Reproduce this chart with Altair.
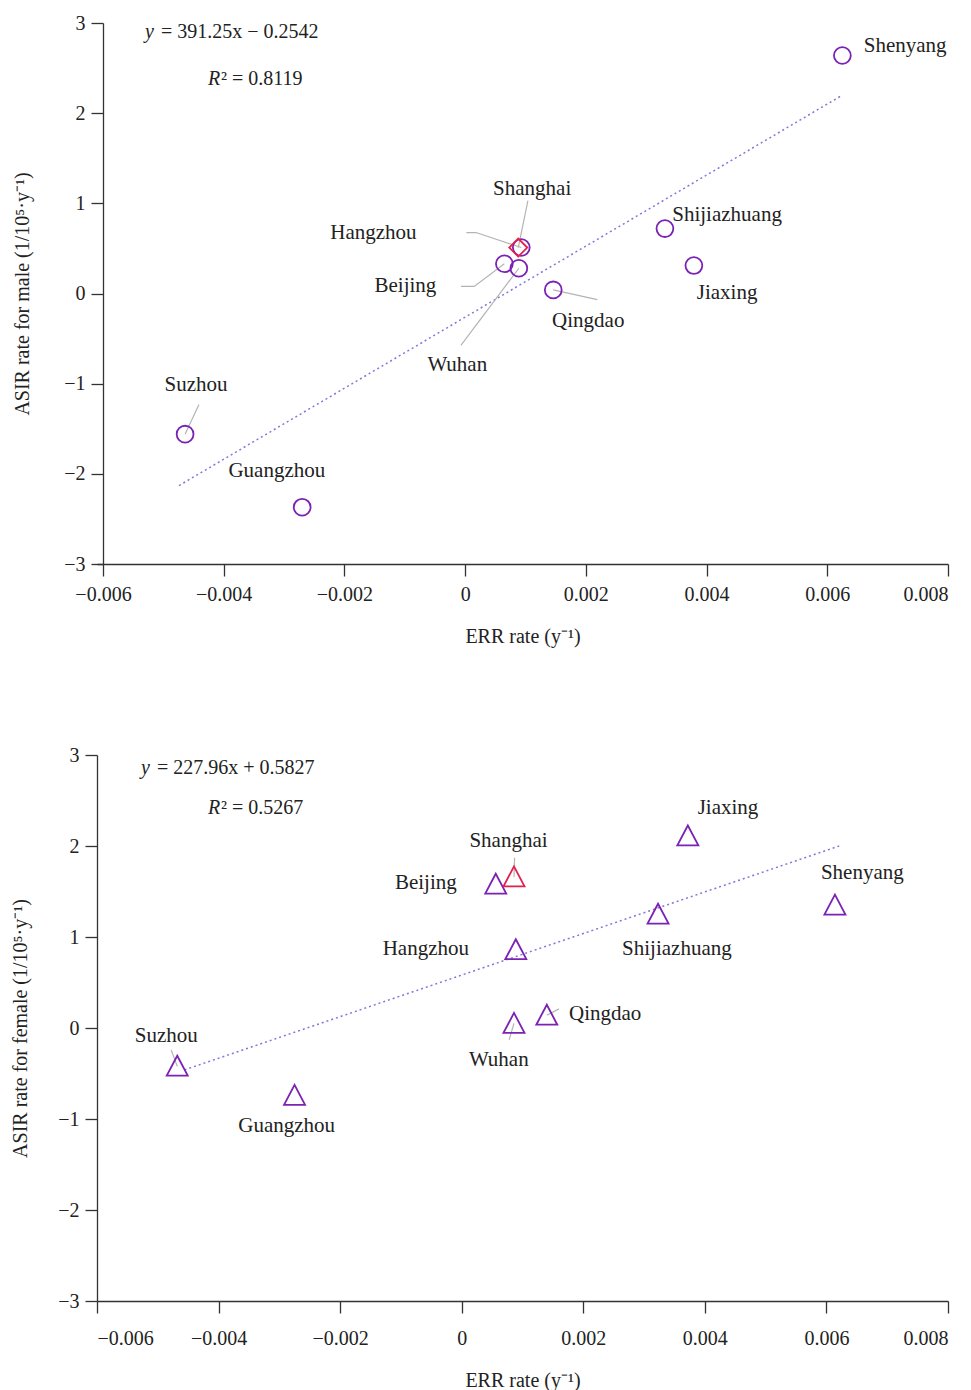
import altair as alt
import pandas as pd

cities = ["Shenyang", "Shijiazhuang", "Jiaxing", "Qingdao", "Shanghai",
          "Hangzhou", "Beijing", "Wuhan", "Suzhou", "Guangzhou"]

# male panel
male_err = [0.00625, 0.00331, 0.00379, 0.00146, 0.00088, 0.00093, 0.00065, 0.00089, -0.00464, -0.00270]
male_asir = [2.64, 0.72, 0.31, 0.04, 0.51, 0.51, 0.33, 0.28, -1.56, -2.37]
male_label_x = [0.00729, 0.00434, 0.00434, 0.00204, 0.00111, -0.00152, -0.00099, -0.00013, -0.00446, -0.00312]
male_label_y = [2.75, 0.87, 0.01, -0.31, 1.16, 0.67, 0.08, -0.79, -1.01, -1.97]
male_leaders = {
    "Qingdao": [(0.00219, -0.067)],
    "Shanghai": [(0.00104, 1.03)],
    "Hangzhou": [(0.00018, 0.676), (0.00002, 0.676)],
    "Beijing": [(0.00015, 0.078), (-0.00007, 0.078)],
    "Wuhan": [(-0.00007, -0.576)],
    "Suzhou": [(-0.00441, -1.23)],
}
male_trend_x = [-0.00474, 0.00625]
male_trend_y = [-2.13, 2.20]

# female panel
female_err = [0.00614, 0.00323, 0.00372, 0.00140, 0.00086, 0.00089, 0.00056, 0.00086, -0.00468, -0.00275]
female_asir = [1.35, 1.25, 2.11, 0.14, 1.66, 0.86, 1.58, 0.05, -0.42, -0.74]
female_label_x = [0.00659, 0.00354, 0.00438, 0.00236, 0.00077, -0.00059, -0.00059, 0.00061, -0.00486, -0.00288]
female_label_y = [1.70, 0.87, 2.42, 0.15, 2.06, 0.87, 1.59, -0.35, -0.09, -1.08]
female_leaders = {
    "Shanghai": [(0.00087, 1.87)],
    "Qingdao": [(0.00160, 0.21)],
    "Wuhan": [(0.00078, -0.13)],
    "Suzhou": [(-0.00478, -0.24)],
}
female_trend_x = [-0.00456, 0.00621]
female_trend_y = [-0.46, 2.00]

x_ticks = [-0.006, -0.004, -0.002, 0, 0.002, 0.004, 0.006, 0.008]
y_ticks = [-3, -2, -1, 0, 1, 2, 3]

FONT = "Liberation Serif"
PURPLE = "#7B22B5"
RED = "#E3204E"
TREND = "#8476DA"
LEADER = "#B4B4B4"
INK = "#222222"


def panel(err, asir, lab_x, lab_y, leaders, tx, ty, shape, size, ytitle,
          eq1, eq2, eq_pos, width, height, ytitle_pad, xlab_pad, xtitle_pad,
          xmin, yoff):
    xs = alt.Scale(domain=[xmin, 0.008], nice=False, zero=False)
    ys = alt.Scale(domain=[-3, 3], nice=False, zero=False)
    pts = pd.DataFrame({"city": cities, "err": err, "asir": asir,
                        "lx": lab_x, "ly": lab_y})
    rows = []
    for c, pts_list in leaders.items():
        i = cities.index(c)
        rows.append({"city": c, "o": 0, "err": err[i], "asir": asir[i]})
        for k, (px, py) in enumerate(pts_list):
            rows.append({"city": c, "o": k + 1, "err": px, "asir": py})
    lead = pd.DataFrame(rows)
    trend = pd.DataFrame({"err": tx, "asir": ty})

    xt = "ERR rate (y⁻¹)"
    xax = alt.Axis(values=x_ticks, format="~g", title=xt,
                   grid=False, tickSize=12, labelPadding=xlab_pad, titlePadding=xtitle_pad)
    yax = alt.Axis(values=y_ticks, title=ytitle, grid=False, tickSize=12,
                   labelPadding=6, titlePadding=ytitle_pad, offset=yoff)

    def X(f):
        return alt.X(f, scale=xs, axis=xax, title=xt)

    def Y(f):
        return alt.Y(f, scale=ys, axis=yax, title=ytitle)

    trend_l = alt.Chart(trend).mark_line(
        strokeDash=[2, 3], color=TREND, strokeWidth=1.5
    ).encode(x=X("err:Q"), y=Y("asir:Q"))
    lead_l = alt.Chart(lead).mark_line(color=LEADER, strokeWidth=1.2).encode(
        x=X("err:Q"), y=Y("asir:Q"), detail="city:N", order="o:Q",
    )
    other = pts[pts.city != "Shanghai"]
    hl = pts[pts.city == "Shanghai"]
    p1 = alt.Chart(other).mark_point(
        shape=shape, filled=False, size=size, strokeWidth=1.8, color=PURPLE, opacity=1
    ).encode(x=X("err:Q"), y=Y("asir:Q"))
    hl_shape = "diamond" if shape == "circle" else shape
    hl_size = 324 if shape == "circle" else size
    p2 = alt.Chart(hl).mark_point(
        shape=hl_shape, filled=False, size=hl_size, strokeWidth=1.8, color=RED, opacity=1
    ).encode(x=X("err:Q"), y=Y("asir:Q"))
    labels = alt.Chart(pts).mark_text(
        font=FONT, fontSize=21, color=INK, align="center", baseline="middle"
    ).encode(x=X("lx:Q"), y=Y("ly:Q"), text="city:N")
    one = alt.Data(values=[{}])
    (yx, yy, ex, rx, rrx, ry) = eq_pos
    t1 = alt.Chart(one).mark_text(font=FONT, fontSize=20, fontStyle="italic", color=INK,
                                  align="left", baseline="middle").encode(
        x=alt.value(yx), y=alt.value(yy), text=alt.value("y"))
    t2 = alt.Chart(one).mark_text(font=FONT, fontSize=20, color=INK,
                                  align="left", baseline="middle").encode(
        x=alt.value(ex), y=alt.value(yy), text=alt.value(eq1))
    t3 = alt.Chart(one).mark_text(font=FONT, fontSize=20, fontStyle="italic", color=INK,
                                  align="left", baseline="middle").encode(
        x=alt.value(rx), y=alt.value(ry), text=alt.value("R"))
    t4 = alt.Chart(one).mark_text(font=FONT, fontSize=20, color=INK,
                                  align="left", baseline="middle").encode(
        x=alt.value(rrx), y=alt.value(ry), text=alt.value(eq2))
    return alt.layer(trend_l, lead_l, p1, p2, labels, t1, t2, t3, t4).properties(
        width=width, height=height)


# top plot: 6 px wider on the left, y axis pulled 6 px inward so it sits at -0.006
top = panel(male_err, male_asir, male_label_x, male_label_y, male_leaders,
            male_trend_x, male_trend_y, "circle", 283,
            "ASIR rate for male (1/10⁵·y⁻¹)",
            "= 391.25x − 0.2542", "² = 0.8119",
            (48, 9, 64, 111, 124, 56), 851, 541, 31, 8, 22,
            -0.006 - 6 / 845 * 0.014, -6)

bottom = panel(female_err, female_asir, female_label_x, female_label_y, female_leaders,
               female_trend_x, female_trend_y, "M0,-1L1,0.9L-1,0.9Z", 441,
               "ASIR rate for female (1/10⁵·y⁻¹)",
               "= 227.96x + 0.5827", "² = 0.5267",
               (44, 13, 60, 111, 124, 53), 851, 546, 27, 15, 22,
               -0.006, 0)

chart = alt.ConcatChart(
    concat=[top, bottom], columns=1, align="none", spacing=99
).properties(padding={"left": 2, "top": 5, "right": 5, "bottom": 5}).configure_view(
    stroke=None
).configure_axis(
    labelFont=FONT, titleFont=FONT, labelFontSize=20, titleFontSize=20,
    labelColor=INK, titleColor=INK, titleFontWeight="normal",
    domainColor="#333333", tickColor="#333333", domainWidth=1.3, tickWidth=1.3,
)

chart.save("out.html", embed_options={"renderer": "svg", "actions": False})
